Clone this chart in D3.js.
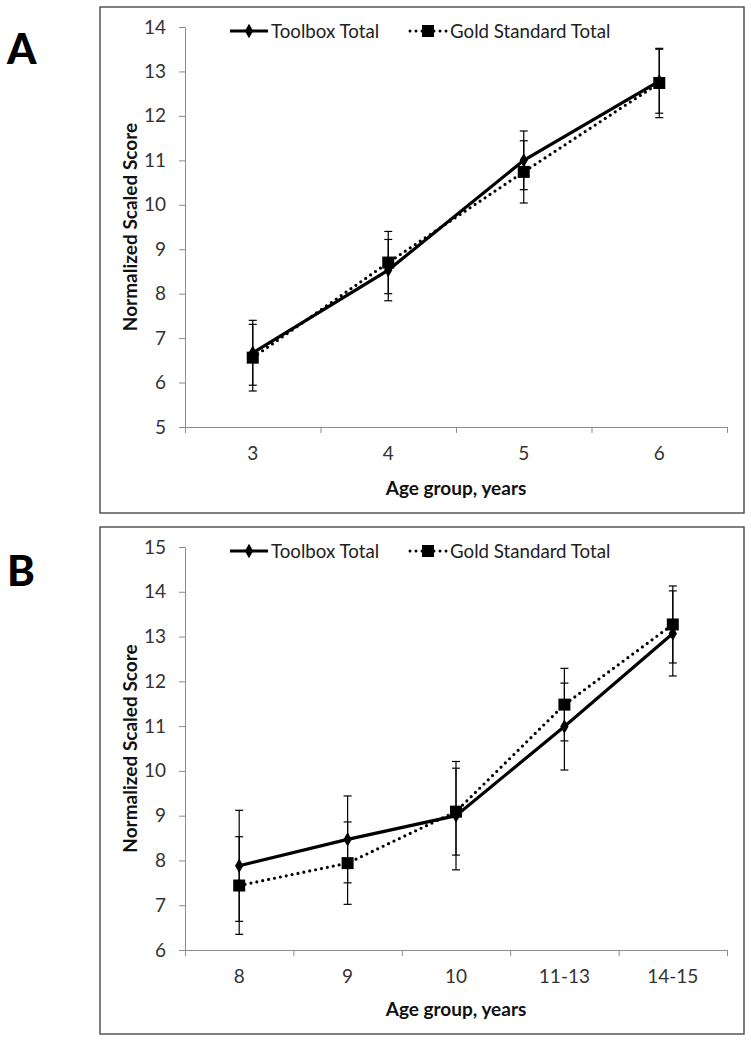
<!DOCTYPE html>
<html>
<head>
<meta charset="utf-8">
<script src="https://cdn.jsdelivr.net/npm/d3@7"></script>
<style>
    body { margin: 0; background: #fff; }
    svg { display: block; font-family: Lato, "Liberation Sans", sans-serif; }
    .frame { fill: none; stroke: #555; stroke-width: 1.5; }
    .axis path, .axis line { stroke: #8c8c8c; }
    .axis text { fill: #333; font-size: 19px; font-family: Lato, sans-serif; }
    .axis-title { font-weight: bold; font-size: 19px; fill: #111; }
    .panel-label { font-weight: 900; font-size: 42px; fill: #000; }
    .legend text { font-size: 18.7px; fill: #222; }
</style>
</head>
<body>
<svg id="chart"></svg>
<script>
// panel A data
const categoriesA = ["3", "4", "5", "6"];
const toolboxA = [6.67, 8.53, 11.0, 12.78];
const toolboxErrA = [0.73, 0.69, 0.66, 0.72];
const goldA = [6.56, 8.7, 10.74, 12.74];
const goldErrA = [0.75, 0.7, 0.7, 0.78];
const yTicksA = [5, 6, 7, 8, 9, 10, 11, 12, 13, 14];

// panel B data
const categoriesB = ["8", "9", "10", "11-13", "14-15"];
const toolboxB = [7.88, 8.47, 9.0, 10.99, 13.07];
const toolboxErrB = [1.24, 0.97, 1.21, 0.97, 0.95];
const goldB = [7.44, 7.94, 9.09, 11.48, 13.27];
const goldErrB = [1.09, 0.92, 0.97, 0.81, 0.86];
const yTicksB = [6, 7, 8, 9, 10, 11, 12, 13, 14, 15];

const seriesNames = ["Toolbox Total", "Gold Standard Total"];
const xTitle = "Age group, years";
const yTitle = "Normalized Scaled Score";

const width = 751,
    height = 1041;

const svg = d3.select("#chart").attr("width", width).attr("height", height);

const diamond = d3.symbol().type(d3.symbolDiamond).size(60);
const square = d3.symbol().type(d3.symbolSquare).size(144);

function drawPanel(p) {
    const g = svg.append("g");

    g.append("rect")
        .attr("class", "frame")
        .attr("x", p.frame[0])
        .attr("y", p.frame[1])
        .attr("width", p.frame[2])
        .attr("height", p.frame[3]);

    g.append("text")
        .attr("class", "panel-label")
        .attr("x", 7)
        .attr("y", p.labelY)
        .text(p.label);

    const x = d3
        .scaleBand()
        .domain(p.categories)
        .range([p.left, p.right]);

    const y = d3
        .scaleLinear()
        .domain(d3.extent(p.yTicks))
        .range([p.bottom, p.top]);

    // y axis
    g.append("g")
        .attr("class", "axis")
        .attr("transform", `translate(${p.left},0)`)
        .call(
            d3.axisLeft(y)
                .tickValues(p.yTicks)
                .tickSize(6)
                .tickSizeOuter(0)
                .tickPadding(13)
        );

    // x axis: labels at band centres, ticks on band edges (Excel style)
    const xAxis = g
        .append("g")
        .attr("class", "axis")
        .attr("transform", `translate(0,${p.bottom})`)
        .call(d3.axisBottom(x).tickSize(0).tickSizeOuter(0).tickPadding(20));
    xAxis.selectAll(".tick line").remove();
    const edges = p.categories.map(c => x(c)).concat([p.right]);
    xAxis
        .selectAll(".edge")
        .data(edges)
        .enter()
        .append("line")
        .attr("class", "edge")
        .attr("x1", d => d + 0.5)
        .attr("x2", d => d + 0.5)
        .attr("y1", 0)
        .attr("y2", 6);

    g.append("text")
        .attr("class", "axis-title")
        .attr("text-anchor", "middle")
        .attr("x", (p.left + p.right) / 2)
        .attr("y", p.bottom + p.xTitleOffset)
        .text(xTitle);

    g.append("text")
        .attr("class", "axis-title")
        .attr("text-anchor", "middle")
        .attr("transform", `translate(137,${(p.top + p.bottom) / 2}) rotate(-90)`)
        .text(yTitle);

    const cx = c => x(c) + x.bandwidth() / 2;

    const series = [
        { values: p.toolbox, err: p.toolboxErr, dash: null, marker: diamond },
        { values: p.gold, err: p.goldErr, dash: "0 6", marker: square }
    ];

    // error bars
    series.forEach(s => {
        const eb = g
            .append("g")
            .attr("stroke", "#000")
            .attr("stroke-width", 1.2);
        p.categories.forEach((c, i) => {
            const hi = y(s.values[i] + s.err[i]),
                lo = y(s.values[i] - s.err[i]);
            eb.append("line")
                .attr("x1", cx(c)).attr("x2", cx(c))
                .attr("y1", hi).attr("y2", lo);
            [hi, lo].forEach(v => {
                eb.append("line")
                    .attr("x1", cx(c) - 4).attr("x2", cx(c) + 4)
                    .attr("y1", v).attr("y2", v);
            });
        });
    });

    const line = d3
        .line()
        .x((d, i) => cx(p.categories[i]))
        .y(d => y(d));

    series.forEach(s => {
        g.append("path")
            .datum(s.values)
            .attr("fill", "none")
            .attr("stroke", "#000")
            .attr("stroke-width", 3.2)
            .attr("stroke-linecap", s.dash ? "round" : "butt")
            .attr("stroke-dasharray", s.dash)
            .attr("d", line);
    });

    series.forEach(s => {
        g.selectAll(null)
            .data(s.values)
            .enter()
            .append("path")
            .attr("d", s.marker)
            .attr("fill", "#000")
            .attr("transform", (d, i) => `translate(${cx(p.categories[i])},${y(d)})`);
    });

    // legend
    const lg = g.append("g").attr("class", "legend");
    const ly = p.top + 4;
    lg.append("line")
        .attr("x1", 230).attr("x2", 268)
        .attr("y1", ly).attr("y2", ly)
        .attr("stroke", "#000").attr("stroke-width", 3);
    lg.append("path").attr("d", diamond).attr("transform", `translate(249,${ly})`);
    lg.append("text").attr("x", 271).attr("y", ly + 6.5).text(seriesNames[0]);

    lg.append("line")
        .attr("x1", 410).attr("x2", 447)
        .attr("y1", ly).attr("y2", ly)
        .attr("stroke", "#000").attr("stroke-width", 3)
        .attr("stroke-linecap", "round")
        .attr("stroke-dasharray", "0 6");
    lg.append("path").attr("d", square).attr("transform", `translate(428,${ly})`);
    lg.append("text").attr("x", 450).attr("y", ly + 6.5).text(seriesNames[1]);
}

drawPanel({
    label: "A",
    labelY: 64,
    frame: [100, 7, 644, 506],
    left: 185,
    right: 727,
    top: 27,
    bottom: 427,
    xTitleOffset: 68,
    categories: categoriesA,
    toolbox: toolboxA,
    toolboxErr: toolboxErrA,
    gold: goldA,
    goldErr: goldErrA,
    yTicks: yTicksA
});

drawPanel({
    label: "B",
    labelY: 586,
    frame: [100, 527, 644, 507],
    left: 185,
    right: 727,
    top: 547,
    bottom: 950,
    xTitleOffset: 66,
    categories: categoriesB,
    toolbox: toolboxB,
    toolboxErr: toolboxErrB,
    gold: goldB,
    goldErr: goldErrB,
    yTicks: yTicksB
});
</script>
</body>
</html>
